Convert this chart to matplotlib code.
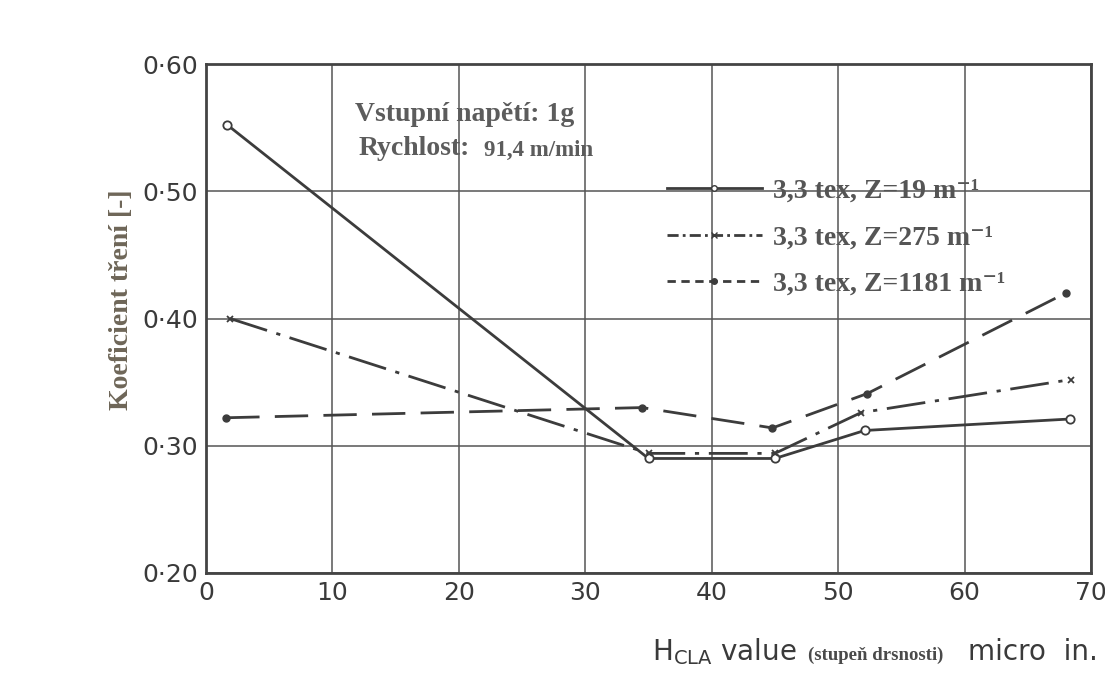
import matplotlib
matplotlib.use("Agg")
import matplotlib.pyplot as plt
from matplotlib.lines import Line2D

# roughness H_CLA (micro in.) and friction coefficient
x_z19 = [1.7, 35.0, 45.0, 52.1, 68.3]
y_z19 = [0.552, 0.290, 0.290, 0.312, 0.321]

x_z275 = [1.9, 35.0, 45.0, 51.8, 68.4]
y_z275 = [0.400, 0.294, 0.294, 0.326, 0.352]

x_z1181 = [1.6, 34.5, 44.8, 52.3, 68.0]
y_z1181 = [0.322, 0.330, 0.314, 0.341, 0.420]

series_labels = ["3,3 tex, Z=19 m⁻¹", "3,3 tex, Z=275 m⁻¹", "3,3 tex, Z=1181 m⁻¹"]

x_ticks = [0, 10, 20, 30, 40, 50, 60, 70]
y_ticks = [0.20, 0.30, 0.40, 0.50, 0.60]
y_tick_labels = ["0·20", "0·30", "0·40", "0·50", "0·60"]

ink = "#3c3c3c"
serif = ["Liberation Serif", "DejaVu Serif"]

fig = plt.figure(figsize=(11.05, 6.79), dpi=100)
ax = fig.add_axes([206 / 1105, 1 - 573 / 679, (1091 - 206) / 1105, (573 - 64) / 679])

ax.plot(x_z19, y_z19, color=ink, lw=2.0, marker="o", ms=6, mfc="white", mec=ink, mew=1.3)
ax.plot(x_z275, y_z275, color=ink, lw=2.0, dashes=(14, 3.5, 1.5, 3.5), marker="x", ms=5, mew=1.3)
ax.plot(x_z1181, y_z1181, color=ink, lw=2.0, dashes=(12, 5.5), marker="o", ms=5, mfc=ink, mec=ink)

ax.set_xlim(0, 70)
ax.set_ylim(0.20, 0.60)
ax.set_xticks(x_ticks)
ax.set_yticks(y_ticks)
ax.set_yticklabels(y_tick_labels)
ax.tick_params(length=0, colors="#3a3a3a", labelsize=18, pad=6)
ax.grid(True, color="#555555", lw=1.1)
for s in ax.spines.values():
    s.set_linewidth(2.0)
    s.set_color("#444444")

# notes inside the plot
note = dict(transform=ax.transAxes, family=serif, weight="bold", color="#5c5c5c", va="center")
ax.text(0.168, 0.900, "Vstupní napětí: 1g", fontsize=20, **note)
ax.text(0.172, 0.834, "Rychlost:", fontsize=20, **note)
ax.text(0.314, 0.831, "91,4 m/min", fontsize=16.5, **note)

handles = [
    Line2D([], [], color=ink, lw=2.0, marker="o", ms=4, mfc="white", mec=ink),
    Line2D([], [], color=ink, lw=2.0, dashes=(4, 1.5, 1, 1.5), marker="x", ms=4),
    Line2D([], [], color=ink, lw=2.0, dashes=(3, 2), marker="o", ms=4, mfc=ink),
]
leg = ax.legend(handles, series_labels, loc="upper left", bbox_to_anchor=(0.521, 0.775),
                frameon=False, handlelength=3.4, handletextpad=0.4, labelspacing=0.76,
                borderaxespad=0, borderpad=0,
                prop={"family": serif, "weight": "bold", "size": 20})
for t in leg.get_texts():
    t.set_color("#555555")

fig.text(121 / 1105, 1 - 300 / 679, "Koeficient tření [-]", family=serif, weight="bold",
         fontsize=20, color="#6e6658", rotation=90, ha="center", va="center")

# x axis caption pieces
fig.text(652 / 1105, 1 - 652 / 679, r"$\mathregular{H_{CLA}}$ value", fontsize=20,
         color="#3a3a3a", va="center")
fig.text(808 / 1105, 1 - 655 / 679, "(stupeň drsnosti)", family=serif, weight="bold",
         fontsize=13.5, color="#4a4a4a", va="center")
fig.text(968 / 1105, 1 - 652 / 679, "micro  in.", fontsize=20, color="#3a3a3a", va="center")

fig.savefig("out.png", dpi=100, facecolor="white")
